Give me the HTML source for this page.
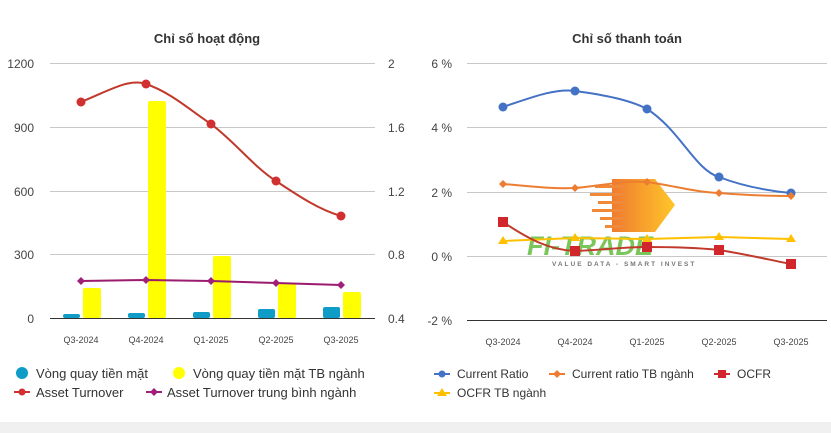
<!DOCTYPE html>
<html><head><meta charset="utf-8"><style>
html,body{margin:0;padding:0;background:#fff}
svg{display:block;font-family:"Liberation Sans",Arial,sans-serif}
</style></head><body>
<svg width="831" height="433" viewBox="0 0 831 433">
<rect x="0" y="422" width="831" height="11" fill="#f0f0f0"/>
<text x="207" y="43" font-size="13" font-weight="bold" text-anchor="middle" fill="#333">Chỉ số hoạt động</text>
<text x="627" y="43" font-size="13" font-weight="bold" text-anchor="middle" fill="#333">Chỉ số thanh toán</text>
<!-- left grid -->
<g stroke="#c8c8c8" stroke-width="1">
<line x1="50" y1="63.5" x2="375" y2="63.5"/><line x1="50" y1="127.5" x2="375" y2="127.5"/>
<line x1="50" y1="191.5" x2="375" y2="191.5"/><line x1="50" y1="254.5" x2="375" y2="254.5"/>
</g>
<line x1="50" y1="318.5" x2="375" y2="318.5" stroke="#333"/>
<g font-size="12" fill="#444" text-anchor="end">
<text x="34" y="68">1200</text><text x="34" y="132">900</text><text x="34" y="196">600</text><text x="34" y="259">300</text><text x="34" y="323">0</text>
</g>
<g font-size="12" fill="#444">
<text x="388" y="68">2</text><text x="388" y="132">1.6</text><text x="388" y="196">1.2</text><text x="388" y="259">0.8</text><text x="388" y="323">0.4</text>
</g>
<g font-size="9" fill="#444" text-anchor="middle">
<text x="81" y="343">Q3-2024</text><text x="146" y="343">Q4-2024</text><text x="211" y="343">Q1-2025</text><text x="276" y="343">Q2-2025</text><text x="341" y="343">Q3-2025</text>
</g>
<g fill="#0f9dc7">
<rect x="63" y="314" width="17" height="4" rx="2"/><rect x="128" y="313" width="17" height="5" rx="2"/><rect x="193" y="312" width="17" height="6" rx="2"/><rect x="258" y="309" width="17" height="9" rx="2"/><rect x="323" y="307" width="17" height="11" rx="2"/>
</g>
<g fill="#ffff00">
<rect x="83" y="288" width="18" height="30" rx="2"/><rect x="148" y="101" width="18" height="217" rx="2"/><rect x="213" y="256" width="18" height="62" rx="2"/><rect x="278" y="283" width="18" height="35" rx="2"/><rect x="343" y="292" width="18" height="26" rx="2"/>
</g>
<path d="M81,102 C110,90 130,78 146,84 C170,92 190,110 211,124 C235,142 255,168 276,181 C300,197 320,210 341,216" fill="none" stroke="#c0392b" stroke-width="2"/>
<g fill="#d03030"><circle cx="81" cy="102" r="4.5"/><circle cx="146" cy="84" r="4.5"/><circle cx="211" cy="124" r="4.5"/><circle cx="276" cy="181" r="4.5"/><circle cx="341" cy="216" r="4.5"/></g>
<path d="M81,281 L146,280 L211,281 L276,283 L341,285" fill="none" stroke="#9b1b6e" stroke-width="2"/>
<g fill="#a01f78"><path d="M81,277 l4,4 -4,4 -4,-4z"/><path d="M146,276 l4,4 -4,4 -4,-4z"/><path d="M211,277 l4,4 -4,4 -4,-4z"/><path d="M276,279 l4,4 -4,4 -4,-4z"/><path d="M341,281 l4,4 -4,4 -4,-4z"/></g>
<!-- right grid -->
<g stroke="#c8c8c8" stroke-width="1">
<line x1="467" y1="63.5" x2="827" y2="63.5"/><line x1="467" y1="127.5" x2="827" y2="127.5"/>
<line x1="467" y1="192.5" x2="827" y2="192.5"/><line x1="467" y1="256.5" x2="827" y2="256.5"/>
</g>
<line x1="467" y1="320.5" x2="827" y2="320.5" stroke="#333"/>
<g font-size="12" fill="#444" text-anchor="end">
<text x="452" y="68">6 %</text><text x="452" y="132">4 %</text><text x="452" y="197">2 %</text><text x="452" y="261">0 %</text><text x="452" y="325">-2 %</text>
</g>
<g font-size="9" fill="#444" text-anchor="middle">
<text x="503" y="345">Q3-2024</text><text x="575" y="345">Q4-2024</text><text x="647" y="345">Q1-2025</text><text x="719" y="345">Q2-2025</text><text x="791" y="345">Q3-2025</text>
</g>
<!-- watermark -->
<defs><linearGradient id="g" x1="0" x2="1"><stop offset="0" stop-color="#f07a30"/><stop offset="1" stop-color="#ffc629"/></linearGradient></defs>
<path d="M612,179 L655,179 L675,205 L655,232 L612,232 Z" fill="url(#g)"/>
<g fill="#f08a3a"><rect x="595" y="185" width="30" height="3"/><rect x="590" y="193" width="35" height="3"/><rect x="598" y="201" width="27" height="3"/><rect x="592" y="209" width="33" height="3"/><rect x="600" y="217" width="25" height="3"/><rect x="605" y="225" width="20" height="3"/></g>
<text x="527" y="255" font-size="27" font-weight="bold" font-style="italic" fill="#6cc04a" opacity="0.9">FI-TRADE</text>
<text x="552" y="266" font-size="6.5" font-weight="bold" fill="#777" letter-spacing="2">VALUE DATA - SMART INVEST</text>
<!-- series right -->
<path d="M503,107 C530,98 555,88 575,91 C605,95 630,100 647,109 C680,130 695,170 719,177 C745,187 770,191 791,193" fill="none" stroke="#4472c4" stroke-width="2"/>
<g fill="#4472c4"><circle cx="503" cy="107" r="4.5"/><circle cx="575" cy="91" r="4.5"/><circle cx="647" cy="109" r="4.5"/><circle cx="719" cy="177" r="4.5"/><circle cx="791" cy="193" r="4.5"/></g>
<path d="M503,184 C530,186 550,189 575,188 C600,186 625,180 647,182 C675,186 695,192 719,193 C745,195 770,196 791,196" fill="none" stroke="#ed7d31" stroke-width="2"/>
<g fill="#ed7d31"><path d="M503,180 l4,4 -4,4 -4,-4z"/><path d="M575,184 l4,4 -4,4 -4,-4z"/><path d="M647,178 l4,4 -4,4 -4,-4z"/><path d="M719,189 l4,4 -4,4 -4,-4z"/><path d="M791,192 l4,4 -4,4 -4,-4z"/></g>
<path d="M503,241 L575,238 L647,239 L719,237 L791,239" fill="none" stroke="#ffc000" stroke-width="2"/>
<g fill="#ffc000"><path d="M503,236 l5,8 -10,0z"/><path d="M575,233 l5,8 -10,0z"/><path d="M647,234 l5,8 -10,0z"/><path d="M719,232 l5,8 -10,0z"/><path d="M791,234 l5,8 -10,0z"/></g>
<path d="M503,222 C530,240 550,250 575,251 C600,250 625,247 647,247 C675,247 700,248 719,250 C745,254 770,260 791,264" fill="none" stroke="#c0392b" stroke-width="2"/>
<g fill="#d0262c"><rect x="498" y="217" width="10" height="10"/><rect x="570" y="246" width="10" height="10"/><rect x="642" y="242" width="10" height="10"/><rect x="714" y="245" width="10" height="10"/><rect x="786" y="259" width="10" height="10"/></g>
<!-- legends -->
<g font-size="13" fill="#333">
<circle cx="22" cy="373" r="6" fill="#0f9dc7"/><text x="36" y="378">Vòng quay tiền mặt</text>
<circle cx="179" cy="373" r="6" fill="#ffff00"/><text x="193" y="378">Vòng quay tiền mặt TB ngành</text>
<line x1="14" y1="392" x2="30" y2="392" stroke="#d03030" stroke-width="2"/><circle cx="22" cy="392" r="3.5" fill="#d03030"/><text x="36" y="397">Asset Turnover</text>
<line x1="146" y1="392" x2="162" y2="392" stroke="#a01f78" stroke-width="2"/><path d="M154,388 l4,4 -4,4 -4,-4z" fill="#a01f78"/><text x="167" y="397">Asset Turnover trung bình ngành</text>
</g>
<g font-size="12" fill="#333">
<line x1="434" y1="374" x2="450" y2="374" stroke="#4472c4" stroke-width="2"/><circle cx="442" cy="374" r="3.5" fill="#4472c4"/><text x="457" y="378">Current Ratio</text>
<line x1="549" y1="374" x2="565" y2="374" stroke="#ed7d31" stroke-width="2"/><path d="M557,370 l4,4 -4,4 -4,-4z" fill="#ed7d31"/><text x="572" y="378">Current ratio TB ngành</text>
<line x1="714" y1="374" x2="730" y2="374" stroke="#d0262c" stroke-width="2"/><rect x="718" y="370" width="8" height="8" fill="#d0262c"/><text x="737" y="378">OCFR</text>
<line x1="434" y1="393" x2="450" y2="393" stroke="#ffc000" stroke-width="2"/><path d="M442,388 l5,8 -10,0z" fill="#ffc000"/><text x="457" y="397">OCFR TB ngành</text>
</g>
</svg>
</body></html>
